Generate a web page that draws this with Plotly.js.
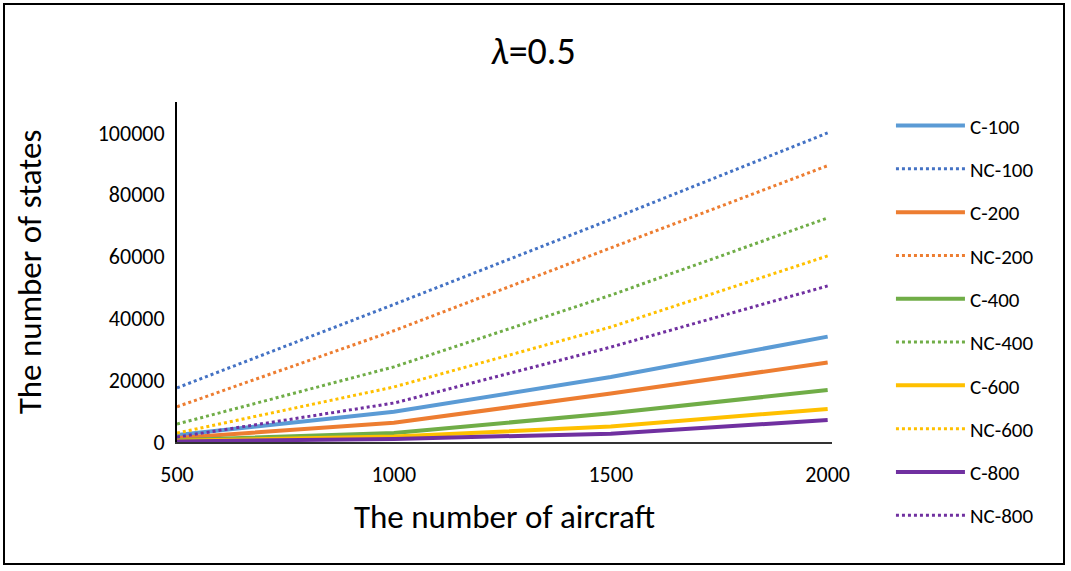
<!DOCTYPE html>
<html>
<head>
<meta charset="utf-8">
<script src="https://cdn.plot.ly/plotly-3.0.1.min.js"></script>
<style>
html,body{margin:0;padding:0;background:#fff;}
#wrap{position:relative;width:1071px;height:571px;}
#chart{width:1071px;height:571px;}
#frame{position:absolute;left:3px;top:3px;width:1062px;height:562px;border:2px solid #000;pointer-events:none;box-sizing:border-box;}
</style>
</head>
<body>
<div id="wrap"><div id="chart"></div><div id="frame"></div></div>
<script>
const aircraft = [500, 1000, 1500, 2000];
const seriesNames = ['C-100','NC-100','C-200','NC-200','C-400','NC-400','C-600','NC-600','C-800','NC-800'];
const c100  = [2300, 9800, 21000, 34100];
const nc100 = [17500, 44500, 72000, 100000];
const c200  = [1300, 6200, 15700, 25700];
const nc200 = [11400, 36000, 62800, 89400];
const c400  = [600, 2900, 9300, 16800];
const nc400 = [5800, 24300, 47500, 72500];
const c600  = [400, 1800, 5000, 10700];
const nc600 = [2900, 17800, 37200, 60200];
const c800  = [200, 1000, 2700, 7100];
const nc800 = [1600, 12600, 30700, 50500];

const values = [c100, nc100, c200, nc200, c400, nc400, c600, nc600, c800, nc800];
const colors = ['#5B9BD5','#4472C4','#ED7D31','#ED7D31','#70AD47','#70AD47','#FFC000','#FFC000','#7030A0','#7030A0'];

const FONT = 'Carlito, Lato, "Liberation Sans", sans-serif';

const traces = seriesNames.map((name, i) => {
  const dotted = name.startsWith('NC');
  return {
    x: aircraft, y: values[i], name: name, type: 'scatter', mode: 'lines',
    legendgroup: 'g' + i,
    line: {color: colors[i], width: dotted ? 3 : 4, dash: dotted ? 'dot' : 'solid'}
  };
});

const layout = {
  width: 1071, height: 571,
  margin: {l: 177, r: 239, t: 102, b: 129, autoexpand: false},
  paper_bgcolor: '#fff', plot_bgcolor: '#fff',
  font: {family: FONT, color: '#000', size: 21},
  title: {text: '<i>λ</i>=0.5', x: 0.498, xanchor: 'center', y: 0.912, yanchor: 'middle', font: {family: FONT, size: 38, color: '#000'}},
  xaxis: {
    range: [500, 2010], tickvals: aircraft, ticktext: aircraft.map(String),
    showgrid: false, zeroline: false, showline: true, linecolor: '#333', linewidth: 2,
    ticks: '', ticklabelstandoff: 12, automargin: false,
    tickfont: {family: FONT, size: 22, color: '#000'},
    title: {text: 'The number of aircraft', font: {family: FONT, size: 33, color: '#000'}, standoff: 17}
  },
  yaxis: {
    range: [0, 110000], tickvals: [0, 20000, 40000, 60000, 80000, 100000],
    showgrid: false, zeroline: false, showline: true, linecolor: '#000', linewidth: 2,
    ticks: '', tickformat: 'd', ticklabelstandoff: 6, automargin: false,
    tickfont: {family: FONT, size: 22, color: '#000'},
    title: {text: 'The number of states', font: {family: FONT, size: 33, color: '#000'}, standoff: 46}
  },
  legend: {
    x: 1.09, xanchor: 'left', y: 0.99, yanchor: 'top',
    font: {family: FONT, size: 21, color: '#000'},
    tracegroupgap: 13, itemwidth: 69, bgcolor: 'rgba(0,0,0,0)', maxheight: 560
  },
  showlegend: true
};

Plotly.newPlot('chart', traces, layout, {displayModeBar: false, staticPlot: true});
</script>
</body>
</html>
